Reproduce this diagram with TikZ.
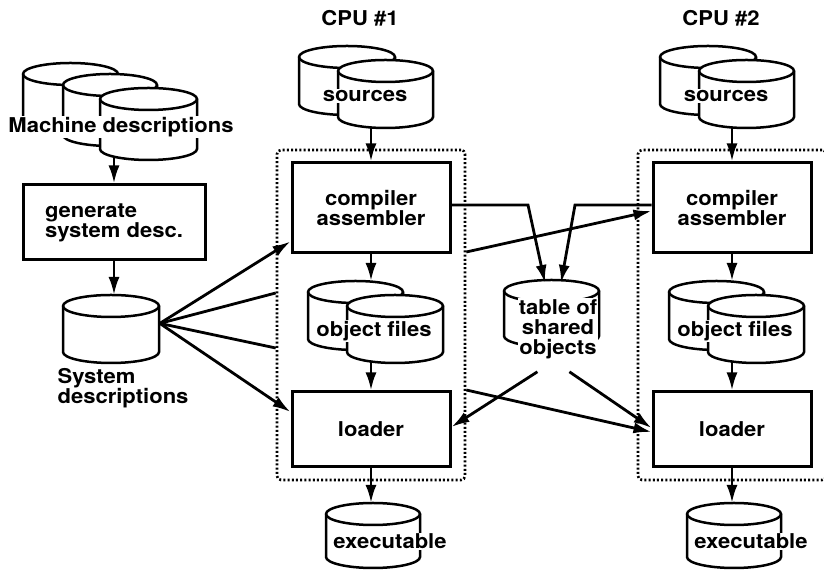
\documentclass[tikz,border=0pt]{standalone}
\usepackage{fontspec}
\setmainfont{TeX Gyre Heros}[FakeStretch=1.08]
\usetikzlibrary{arrows.meta}

% \drawdrum{name}{left x}{top y, measured downward}{width}{height}
% draws an upright storage drum and an invisible node (name) covering it
\newcommand\drawdrum[5]{%
  \path[drumline, draw, fill=white]
    (#2,571-#3-11) -- ++(0,-#5+22)
    arc[start angle=180, end angle=360, x radius={#4/4*1pt}, y radius=5.5pt]
    -- ++(0,#5-22)
    arc[start angle=0, end angle=180, x radius={#4/4*1pt}, y radius=5.5pt]
    -- cycle;
  \draw[drumline] (#2,571-#3-11)
    arc[start angle=180, end angle=360, x radius={#4/4*1pt}, y radius=5.5pt];
  \node[inner sep=0pt, minimum width={#4*0.5pt}, minimum height={#5*0.5pt},
        anchor=north west] (#1) at (#2,571-#3) {};%
}

\begin{document}
\begin{tikzpicture}[x=0.5pt, y=0.5pt,
  lbl/.style={font=\fontsize{10.2}{10}\selectfont\bfseries, inner sep=0.6pt, align=center},
  onwhite/.style={lbl, fill=white},
  procbox/.style={draw, line width=1.5pt, inner sep=0pt,
    font=\fontsize{10.2}{10}\selectfont\bfseries, align=center},
  cpuframe/.style={draw, line width=1.3pt, dash pattern=on 1pt off 1.1pt,
    rounded corners=2pt, inner sep=0pt, minimum width=94pt, minimum height=165pt},
  flow/.style={line width=1.4pt, -{Latex[length=9pt, width=5.5pt]}},
  link/.style={line width=1.4pt},
  drumline/.style={line width=1.25pt}]
\useasboundingbox (0,0) rectangle (824,571);

% ---------- machine descriptions and system generator ----------
\drawdrum{mdA}{23}{63}{95}{70}
\drawdrum{mdB}{63}{74}{94}{72}
\drawdrum{mdC}{100}{88}{97}{72}
\node[onwhite] (mdtext) at (121,444) {Machine descriptions};

\node[procbox, minimum width=91pt, minimum height=37.5pt, align=left]
  (gen) at (114,348.5) {generate\\system desc.};

\drawdrum{sysd}{63}{295}{96}{68}
\node[lbl, align=left] (sysdtext) at (123,183) {System\\descriptions};

% ---------- CPU frames ----------
\node[cpuframe] (cpu1) at (371,256) {};
\node[cpuframe] (cpu2) at (732,256) {};
\node[lbl] (cpu1title) at (360,552.5) {CPU \#1};
\node[lbl] (cpu2title) at (721,552.5) {CPU \#2};

% ---------- CPU #1 ----------
\drawdrum{src1b}{299}{46}{96}{69}
\drawdrum{src1f}{338}{60}{95}{68}
\node[onwhite] (src1text) at (365,475) {sources};
\node[procbox, minimum width=79pt, minimum height=45pt] (cc1) at (371,363) {compiler\\assembler};
\drawdrum{obj1b}{308}{281}{95}{69}
\drawdrum{obj1f}{347}{295}{96}{68}
\node[onwhite] (obj1text) at (374,240) {object files};
\node[procbox, minimum width=79pt, minimum height=37.5pt] (ld1) at (371,141.5) {loader};
\drawdrum{exe1}{326}{503}{94}{65}
\node[onwhite] (exe1text) at (390,29.5) {executable};

% ---------- CPU #2 ----------
\drawdrum{src2b}{660}{46}{96}{69}
\drawdrum{src2f}{699}{60}{95}{68}
\node[onwhite] (src2text) at (726,475) {sources};
\node[procbox, minimum width=79pt, minimum height=45pt] (cc2) at (732,363) {compiler\\assembler};
\drawdrum{obj2b}{669}{281}{95}{69}
\drawdrum{obj2f}{708}{295}{96}{68}
\node[onwhite] (obj2text) at (735,240) {object files};
\node[procbox, minimum width=79pt, minimum height=37.5pt] (ld2) at (732,141.5) {loader};
\drawdrum{exe2}{687}{503}{94}{65}
\node[onwhite] (exe2text) at (751,29.5) {executable};

% ---------- shared table ----------
\drawdrum{tab}{504}{280}{95}{67}
\node[onwhite] (tabtext) at (558,242) {table of\\shared\\objects};

% ---------- connectors ----------
\draw[flow] ([yshift=2pt]mdC.south -| gen.north) -- (gen.north);
\draw[flow] (gen.south) -- (gen.south |- sysd.north);

\coordinate (fan) at ([yshift=3pt]sysd.east);
\draw[flow] (fan) -- ([yshift=6.5pt]cc1.south west);
\draw[link] (fan) -- ([yshift=11pt]cpu1.west);
\draw[link] (fan) -- ([yshift=-16.5pt]cpu1.west);
\draw[flow] (fan) -- ([yshift=8.75pt]ld1.west);

\draw[flow] ([yshift=0.5pt]src1f.south -| cc1.north) -- (cc1.north);
\draw[flow] (cc1.south) -- (cc1.south |- obj1b.north);
\draw[flow] ([yshift=1pt]obj1f.south -| ld1.north) -- (ld1.north);
\draw[flow] (ld1.south) -- (ld1.south |- exe1.north);

\draw[flow] ([yshift=0.5pt]src2f.south -| cc2.north) -- (cc2.north);
\draw[flow] (cc2.south) -- (cc2.south |- obj2b.north);
\draw[flow] ([yshift=1pt]obj2f.south -| ld2.north) -- (ld2.north);
\draw[flow] (ld2.south) -- (ld2.south |- exe2.north);

\coordinate (bendA) at (528,366);
\coordinate (tabinA) at (545,288);
\coordinate (bendB) at (575,366);
\coordinate (tabinB) at (561,288);
\draw[flow] (cc1.east |- bendA) -- (bendA) -- (tabinA);
\draw[flow] (cc2.west |- bendB) -- (bendB) -- (tabinB);

\draw[flow] ([yshift=31.5pt]cpu1.east) -- ([yshift=-1.5pt]cc2.west);
\draw[flow] ([xshift=-7.25pt,yshift=-12pt]tab.south) -- ([yshift=1.25pt]ld1.east);
\draw[flow] ([xshift=8.75pt,yshift=-12pt]tab.south) -- ([yshift=0.75pt]ld2.west);
\draw[flow] ([yshift=-37.5pt]cpu1.east) -- ([yshift=-1.25pt]ld2.west);
\end{tikzpicture}
\end{document}
